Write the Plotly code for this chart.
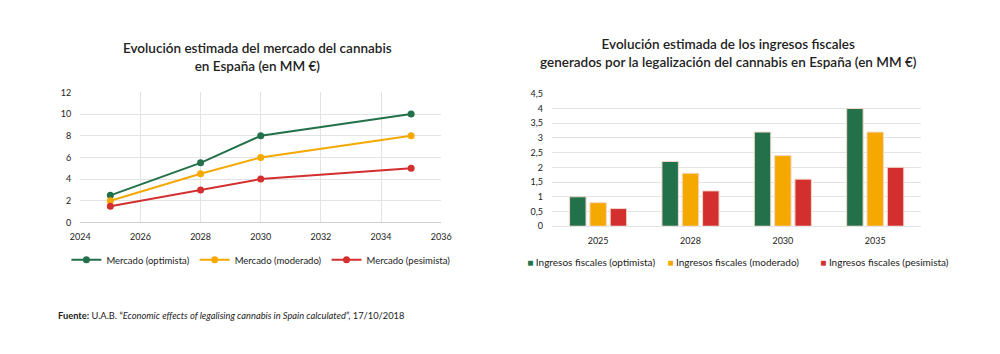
import plotly.graph_objects as go

# Left chart data
years = [2025, 2028, 2030, 2035]
mercado_optimista = [2.5, 5.5, 8, 10]
mercado_moderado = [2, 4.5, 6, 8]
mercado_pesimista = [1.5, 3, 4, 5]

# Right chart data
bar_years = ["2025", "2028", "2030", "2035"]
ingresos_optimista = [1.0, 2.2, 3.2, 4.0]
ingresos_moderado = [0.8, 1.8, 2.4, 3.2]
ingresos_pesimista = [0.6, 1.2, 1.6, 2.0]

GREEN = "#23714A"
ORANGE = "#F5A800"
RED = "#D32F2F"
FONT = "Lato"
TXT = "#222222"

fig = go.Figure()

for name, vals, col in [("Mercado (optimista)", mercado_optimista, GREEN),
                        ("Mercado (moderado)", mercado_moderado, ORANGE),
                        ("Mercado (pesimista)", mercado_pesimista, RED)]:
    fig.add_trace(go.Scatter(x=years, y=vals, name=name, mode="lines+markers",
                             line=dict(color=col, width=2), marker=dict(color=col, size=7),
                             xaxis="x", yaxis="y", legend="legend"))

bar_legends = ["legend2", "legend3", "legend4"]
for (name, vals, col), lg in zip([("Ingresos fiscales (optimista)", ingresos_optimista, GREEN),
                                  ("Ingresos fiscales (moderado)", ingresos_moderado, ORANGE),
                                  ("Ingresos fiscales (pesimista)", ingresos_pesimista, RED)], bar_legends):
    fig.add_trace(go.Bar(x=bar_years, y=vals, name=name, showlegend=False,
                         marker=dict(color=col, line=dict(color="#F3D9C9", width=1)),
                         xaxis="x2", yaxis="y2"))
    # legend entry: small coloured square right next to the text
    fig.add_trace(go.Scatter(x=[None], y=[None], mode="markers",
                             name=f'<span style="color:{col}">■</span> {name}',
                             marker=dict(color="rgba(0,0,0,0)", size=1),
                             xaxis="x2", yaxis="y2", legend=lg))

grid = "#E3E3E3"
bar_leg = dict(orientation="h", xanchor="left", y=1 - 264 / 354, yanchor="middle",
               font=dict(size=10, color=TXT), bgcolor="rgba(0,0,0,0)", itemwidth=30)
fig.update_layout(
    width=1000, height=354, margin=dict(l=0, r=0, t=0, b=0),
    paper_bgcolor="white", plot_bgcolor="white",
    separators=", ",
    font=dict(family=FONT, size=9, color=TXT),
    barmode="group", bargap=0.34, bargroupgap=0.19,
    xaxis=dict(domain=[0.0717, 0.44], range=[2024, 2036], dtick=2, tick0=2024,
               showgrid=True, gridcolor=grid, gridwidth=1, zeroline=False,
               showline=True, linecolor="#CFCFCF", ticks="", tickfont=dict(size=9, color=TXT),
               anchor="y", ticklabelstandoff=6),
    yaxis=dict(domain=[0.369, 0.748], range=[0, 12], dtick=2, showgrid=True, gridcolor=grid,
               zeroline=False, showline=False, ticks="", tickfont=dict(size=9, color=TXT),
               anchor="x", ticklabelstandoff=8),
    xaxis2=dict(domain=[0.553, 0.930], type="category", showgrid=False, zeroline=False,
                showline=True, linecolor=grid, ticks="", tickfont=dict(size=9, color=TXT),
                anchor="y2", ticklabelstandoff=6),
    yaxis2=dict(domain=[0.358, 0.744], range=[0, 4.5], dtick=0.5, showgrid=True, gridcolor=grid,
                zeroline=False, showline=False, ticks="", tickfont=dict(size=9, color=TXT),
                anchor="x2", ticklabelstandoff=8),
    legend=dict(orientation="h", x=0.256, xanchor="center", y=1 - 262 / 354, yanchor="middle",
                font=dict(size=9.5, color=TXT), bgcolor="rgba(0,0,0,0)", itemwidth=30),
    legend2=dict(bar_leg, x=0.487),
    legend3=dict(bar_leg, x=0.630),
    legend4=dict(bar_leg, x=0.786),
)

fig.add_annotation(text="Evolución estimada del mercado del cannabis<br>en España (en MM €)",
                   x=0.253, y=1 - 52.3 / 354, xref="paper", yref="paper", showarrow=False,
                   xanchor="center", yanchor="middle",
                   font=dict(family=FONT, size=13.5, color=TXT, weight=600), align="center")
fig.add_annotation(text="Evolución estimada de los ingresos fiscales<br>generados por la legalización del cannabis en España (en MM €)",
                   x=0.7335, y=1 - 48.5 / 354, xref="paper", yref="paper", showarrow=False,
                   xanchor="center", yanchor="middle",
                   font=dict(family=FONT, size=13.5, color=TXT, weight=600), align="center")
fig.add_annotation(text="<b>Fuente:</b> U.A.B. “<i>Economic effects of legalising cannabis in Spain calculated</i>”, 17/10/2018",
                   x=0.047, y=1 - 319 / 354, xref="paper", yref="paper", xanchor="left", yanchor="middle",
                   showarrow=False, font=dict(family=FONT, size=9.3, color=TXT), align="left")

fig.write_html("out.html")
